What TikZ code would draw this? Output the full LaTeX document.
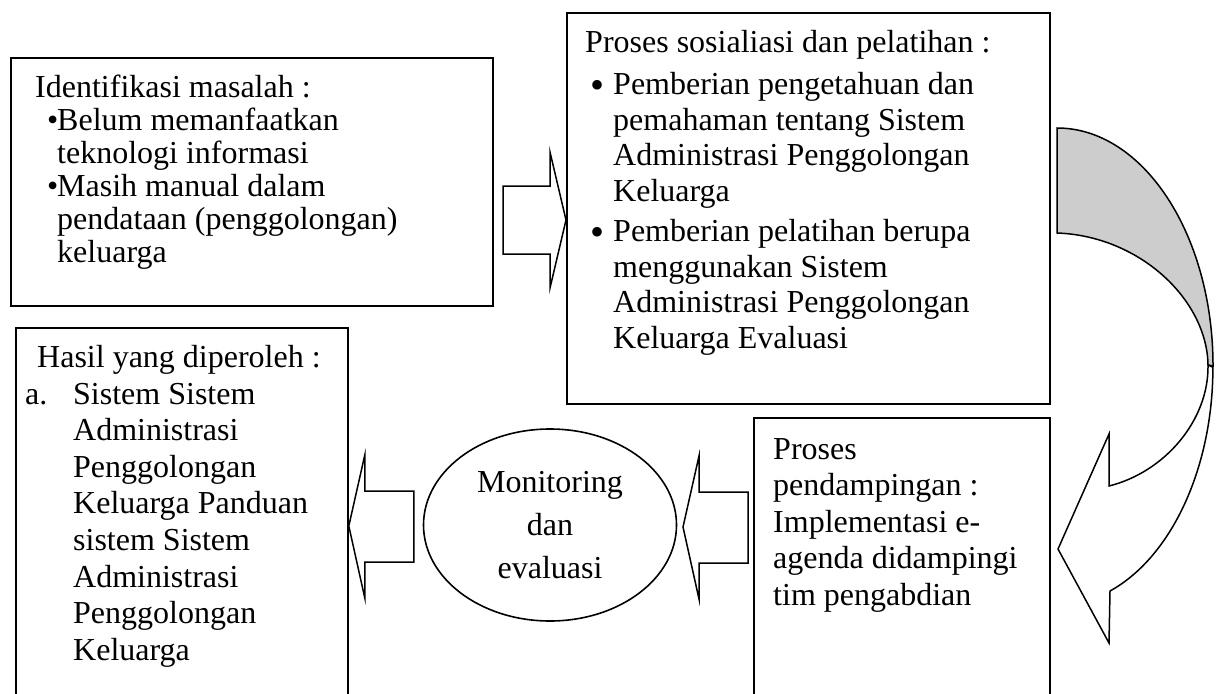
\documentclass[tikz,border=0pt]{standalone}
\usepackage{fontspec}
\setmainfont{Liberation Serif}
\usetikzlibrary{shapes.geometric}
\definecolor{ribbongray}{RGB}{205,205,205}
\newcommand{\bigbul}{\raisebox{-3.5pt}{\fontsize{40}{35}\selectfont\textbullet}}

\begin{document}
\begin{tikzpicture}[x=1pt,y=-1pt,
    box/.style={draw,line width=1.8pt,inner sep=0pt,anchor=north west},
    txt/.style={inner sep=0pt,anchor=north west,align=left},
    blockarrow/.style={draw,line width=1.5pt,fill=white,line join=miter},
    ribbon/.style={draw,line width=1.5pt,line join=miter}]
  \useasboundingbox (0,0) rectangle (1222,693);
  % boxes
  \node[box,minimum width=482,minimum height=248] (idbox) at (10,57) {};
  \node[box,minimum width=483,minimum height=391] (sosbox) at (566,12) {};
  \node[box,minimum width=296,minimum height=300] (dampbox) at (753,417) {};
  \node[box,minimum width=332,minimum height=380] (hasilbox) at (15,327) {};
  % texts
  \node[txt,font=\fontsize{32}{33}\selectfont] (idtxt) at (35,75)
    {Identifikasi masalah :\\
     \hspace*{12pt}\makebox[10pt][l]{\textbullet}Belum memanfaatkan\\
     \hspace*{22pt}teknologi informasi\\
     \hspace*{12pt}\makebox[10pt][l]{\textbullet}Masih manual dalam\\
     \hspace*{22pt}pendataan (penggolongan)\\
     \hspace*{22pt}keluarga};
  \node[txt,font=\fontsize{32}{35.5}\selectfont] (sostxt) at (585,30)
    {Proses sosialiasi dan pelatihan :\\[7pt]
     \hspace*{5pt}\makebox[23pt][l]{\bigbul}Pemberian pengetahuan dan\\
     \hspace*{28pt}pemahaman tentang Sistem\\
     \hspace*{28pt}Administrasi Penggolongan\\
     \hspace*{28pt}Keluarga\\[5pt]
     \hspace*{5pt}\makebox[23pt][l]{\bigbul}Pemberian pelatihan berupa\\
     \hspace*{28pt}menggunakan Sistem\\
     \hspace*{28pt}Administrasi Penggolongan\\
     \hspace*{28pt}Keluarga Evaluasi};
  \node[txt,font=\fontsize{32}{36.5}\selectfont] (damptxt) at (773,438)
    {Proses\\
     pendampingan :\\
     Implementasi e-\\
     agenda didampingi\\
     tim pengabdian};
  \node[txt,font=\fontsize{32}{36.6}\selectfont] (hasiltxt) at (25,345)
    {\hspace*{12pt}Hasil yang diperoleh :\\
     \makebox[48pt][l]{a.}Sistem Sistem\\
     \hspace*{48pt}Administrasi\\
     \hspace*{48pt}Penggolongan\\
     \hspace*{48pt}Keluarga Panduan\\
     \hspace*{48pt}sistem Sistem\\
     \hspace*{48pt}Administrasi\\
     \hspace*{48pt}Penggolongan\\
     \hspace*{48pt}Keluarga};
  \node[draw,ellipse,line width=1.6pt,minimum width=253,minimum height=192,
        inner sep=0pt,align=center,font=\fontsize{32}{43}\selectfont]
        (monev) at (550,525) {Monitoring\\dan\\evaluasi};
  % arrows
  \coordinate (tip1) at (sosbox.west |- 0,220);
  \coordinate (tip2) at (683,527);
  \coordinate (tip3) at (hasilbox.east |- 0,526);
  \draw[blockarrow] (tip1) -- ++(-16,-68) -- ++(0,34) -- ++(-47,0)
    -- ++(0,68) -- ++(47,0) -- ++(0,34) -- cycle;
  \draw[blockarrow] (tip2) -- ++(16,-71) -- ++(0,36) -- ++(49,0)
    -- ++(0,71) -- ++(-49,0) -- ++(0,36) -- cycle;
  \draw[blockarrow] (tip3) -- ++(16,-71) -- ++(0,36) -- ++(49,0)
    -- ++(0,71) -- ++(-49,0) -- ++(0,36) -- cycle;
  % curved arrow
  \filldraw[ribbon,fill=ribbongray] (1057,128)
    arc[start angle=90,end angle=0,x radius=156pt,y radius=238pt]
    -- (1208,365) .. controls (1207,300) and (1140,236) .. (1057,233) -- cycle;
  \filldraw[ribbon,fill=white] (1208,365)
    .. controls (1209,420) and (1165,472) .. (1109,486)
    -- (1109,434) -- (1058,549) -- (1109,643) -- (1110,591)
    arc[start angle=-70.1,end angle=0,x radius=156pt,y radius=238pt] -- cycle;
\end{tikzpicture}
\end{document}
